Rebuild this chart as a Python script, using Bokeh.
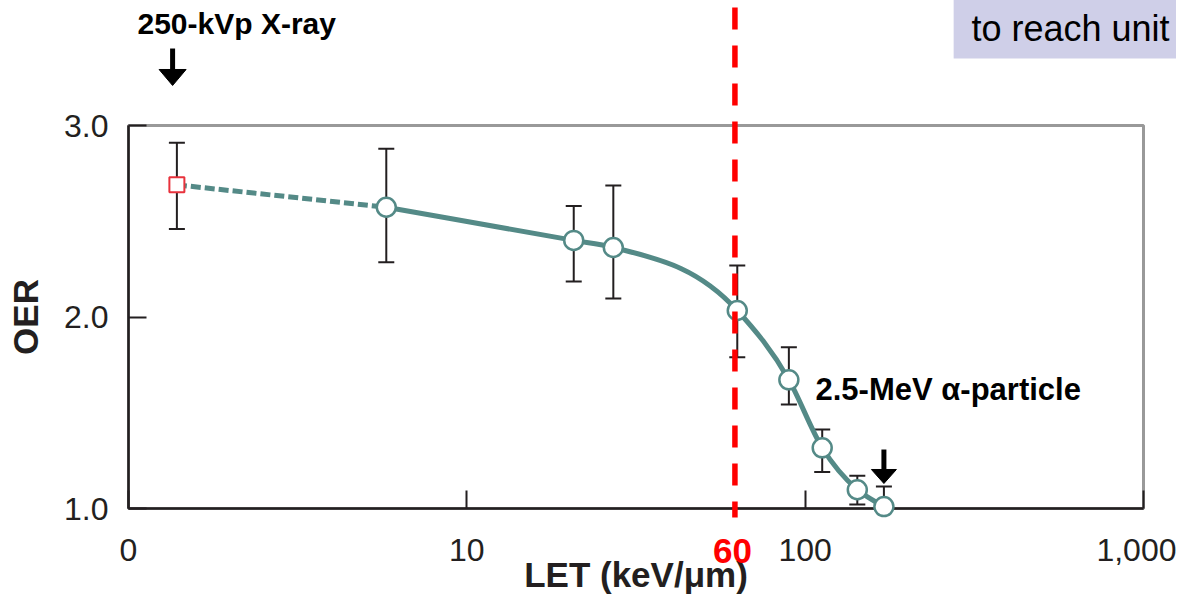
import math
from bokeh.plotting import figure
from bokeh.models import ColumnDataSource, FixedTicker, Whisker, TeeHead, Range1d
from bokeh.core.properties import value
from bokeh.embed import file_html
from bokeh.resources import INLINE

# ---------------- data ----------------
xray_let = [1.39]
xray_oer = [2.69]
xray_lower = [2.46]
xray_upper = [2.91]

let_values = [5.78, 20.7, 27.1, 63.0, 89.5, 112.3, 142.6, 170.9]
oer_values = [2.573, 2.40, 2.363, 2.034, 1.672, 1.317, 1.098, 1.01]
oer_lower = [2.286, 2.185, 2.097, 1.79, 1.543, 1.19, 1.021, 1.0]
oer_upper = [2.878, 2.58, 2.687, 2.269, 1.842, 1.413, 1.171, 1.115]

x_ticks = [1, 10, 100, 1000]
x_tick_labels = ["0", "10", "100", "1,000"]
y_ticks = [1, 2, 3]
y_tick_labels = ["1.0", "2.0", "3.0"]

vline_let = 62
vline_label = "60"
xray_arrow_let = 1.35
alpha_let = 170.9

# ---------------- styling ----------------
FONT = "Liberation Sans"
TEAL = "#548a87"
DARK = "#231f20"
RED = "#ff0000"

p = figure(width=1176, height=604, output_backend="svg", toolbar_location=None,
           x_axis_type="log", x_range=Range1d(1, 1000), y_range=Range1d(1, 3),
           min_border_left=128, min_border_right=33, min_border_top=125,
           min_border_bottom=96, background_fill_color="white",
           border_fill_color="white")
p.xgrid.visible = False
p.ygrid.visible = False
p.outline_line_color = "#999999"
p.outline_line_width = 3

# axes
xa = p.xaxis[0]
xa.ticker = FixedTicker(ticks=x_ticks)
xa.major_label_overrides = {t: l for t, l in zip(x_ticks, x_tick_labels)}
xa.minor_tick_line_color = None
ya = p.yaxis[0]
ya.ticker = FixedTicker(ticks=y_ticks)
ya.major_label_overrides = {t: l for t, l in zip(y_ticks, y_tick_labels)}
ya.minor_tick_line_color = None
for ax in (xa, ya):
    ax.axis_line_color = DARK
    ax.axis_line_width = 2.5
    ax.major_tick_line_color = DARK
    ax.major_tick_line_width = 2
    ax.major_tick_in = 18
    ax.major_tick_out = 0
    ax.major_label_text_font = FONT
    ax.major_label_text_font_size = "32px"
    ax.major_label_text_color = DARK
    ax.axis_label_text_font = FONT
    ax.axis_label_text_font_size = "35px"
    ax.axis_label_text_font_style = "bold"
    ax.axis_label_text_color = DARK
xa.axis_label = "LET (keV/\u03bcm)"
xa.major_label_standoff = 30
xa.axis_label_standoff = -9
ya.axis_label = "OER"
ya.major_label_standoff = 20
ya.axis_label_standoff = 16

# lavender text box at the top right (partly outside the picture)
p.quad(left=[274.7], right=[3000], bottom=[3.35], top=[3.8], fill_color="#cfcfe8",
       line_color=None, level="annotation")

# error bars
src = ColumnDataSource(dict(let=let_values, oer=oer_values, lo=oer_lower, hi=oer_upper))
xsrc = ColumnDataSource(dict(let=xray_let, oer=xray_oer, lo=xray_lower, hi=xray_upper))
for s in (xsrc, src):
    w = Whisker(source=s, base="let", lower="lo", upper="hi", dimension="height",
                line_color=DARK, line_width=2,
                upper_head=TeeHead(size=16, line_color=DARK, line_width=2),
                lower_head=TeeHead(size=16, line_color=DARK, line_width=2))
    p.add_layout(w)

# dashed connection from X-ray point to first particle point
p.line(x=[xray_let[0], let_values[0]], y=[xray_oer[0], oer_values[0]],
       line_color=TEAL, line_width=5, line_dash="10 4")

# smooth curve through the particle points (cubic Hermite -> bezier, in log-x space)
u = [math.log10(v) for v in let_values]
yv = oer_values
n = len(u)
h = [u[i + 1] - u[i] for i in range(n - 1)]
d = [(yv[i + 1] - yv[i]) / h[i] for i in range(n - 1)]
m = [d[0]]
for i in range(1, n - 1):
    m.append((d[i - 1] * h[i] + d[i] * h[i - 1]) / (h[i - 1] + h[i]))
m.append(d[-1])
bz = dict(x0=[], y0=[], x1=[], y1=[], cx0=[], cy0=[], cx1=[], cy1=[])
for i in range(n - 1):
    bz["x0"].append(let_values[i]); bz["y0"].append(yv[i])
    bz["x1"].append(let_values[i + 1]); bz["y1"].append(yv[i + 1])
    bz["cx0"].append(10 ** (u[i] + h[i] / 3)); bz["cy0"].append(yv[i] + m[i] * h[i] / 3)
    bz["cx1"].append(10 ** (u[i + 1] - h[i] / 3)); bz["cy1"].append(yv[i + 1] - m[i + 1] * h[i] / 3)
p.bezier(x0="x0", y0="y0", x1="x1", y1="y1", cx0="cx0", cy0="cy0", cx1="cx1", cy1="cy1",
         source=ColumnDataSource(bz), line_color=TEAL, line_width=5)

# markers
p.scatter("let", "oer", source=xsrc, marker="square", size=15, fill_color="white",
          line_color="#e8323c", line_width=2, level="annotation")
p.scatter("let", "oer", source=src, marker="circle", size=19, fill_color="white",
          line_color=TEAL, line_width=2.5, level="annotation")

# arrows (shaft + triangular head)
p.segment(x0=[xray_arrow_let, alpha_let], y0=[3.402, 1.308],
          x1=[xray_arrow_let, alpha_let], y1=[3.285, 1.195],
          line_color="black", line_width=5, level="annotation")
hw1 = 10 ** (13.5 / 338.3)
p.patch(x=[xray_arrow_let / hw1, xray_arrow_let * hw1, xray_arrow_let],
        y=[3.2925, 3.2925, 3.209], fill_color="black", line_color="black",
        line_width=1, level="annotation")
hw2 = 10 ** (12.5 / 338.3)
p.patch(x=[alpha_let / hw2, alpha_let * hw2, alpha_let],
        y=[1.2037, 1.2037, 1.1305], fill_color="black", line_color="black",
        line_width=1, level="annotation")

# red dashed vertical line
p.segment(x0=[vline_let], y0=[3.616], x1=[vline_let], y1=[0.953], line_color=RED,
          line_width=5.5, line_dash="22 16", level="annotation")

# texts
p.text(x=[1.063], y=[3.533], text=["250-kVp X-ray"], text_font=value(FONT),
       text_font_size="30px", text_font_style="bold", text_color="black",
       text_baseline="alphabetic", text_align="left", level="annotation")
p.text(x=[107.3], y=[1.622], text=["2.5-MeV \u03b1-particle"], text_font=value(FONT),
       text_font_size="31px", text_font_style="bold", text_color="black",
       text_baseline="alphabetic", text_align="left", level="annotation")
p.text(x=[61], y=[0.776], text=[vline_label], text_font=value(FONT),
       text_font_size="35px", text_font_style="bold", text_color=RED,
       text_baseline="alphabetic", text_align="center", level="annotation")
p.text(x=[310], y=[3.507], text=["to reach unit"], text_font=value(FONT),
       text_font_size="36px", text_color="black",
       text_baseline="alphabetic", text_align="left", level="annotation")

open("out.html", "w").write(file_html(p, INLINE))
